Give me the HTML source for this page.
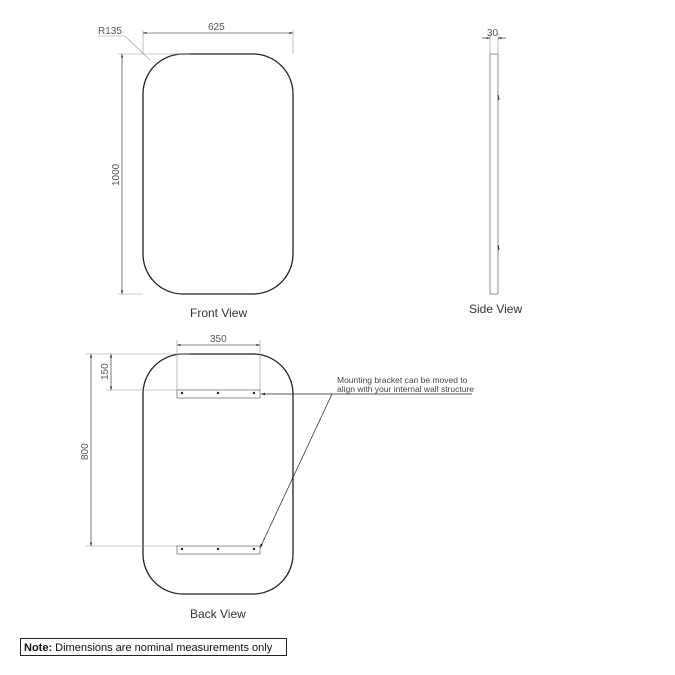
<!DOCTYPE html>
<html><head><meta charset="utf-8"><style>
body{margin:0;background:#fff;width:675px;height:675px;overflow:hidden}
svg{display:block;font-family:"Liberation Sans",sans-serif}
</style></head><body>
<svg width="675" height="675" viewBox="0 0 675 675" xmlns="http://www.w3.org/2000/svg">
<defs>
<marker id="a" viewBox="0 0 10 10" refX="10" refY="5" markerWidth="6" markerHeight="6" orient="auto-start-reverse"><path d="M0,2 L10,5 L0,8 z" fill="#222"/></marker>
</defs>
<!-- Front view -->
<rect x="143" y="54" width="150" height="240" rx="40" ry="40" fill="none" stroke="#222" stroke-width="1.3"/>
<g stroke="#999" stroke-width="0.6" fill="none">
<line x1="143" y1="30" x2="143" y2="54"/><line x1="293" y1="30" x2="293" y2="54"/>
<line x1="118" y1="54" x2="190" y2="54"/><line x1="118" y1="294" x2="143" y2="294"/>
<polyline points="98,36 125,36 150,60"/>
</g>
<g stroke="#222" stroke-width="0.6">
<line x1="143" y1="33" x2="293" y2="33" marker-start="url(#a)" marker-end="url(#a)"/>
<line x1="122" y1="54" x2="122" y2="294" marker-start="url(#a)" marker-end="url(#a)"/>
</g>
<g fill="#555" font-size="10">
<text x="208" y="30">625</text>
<text x="98" y="34">R135</text>
<text transform="translate(119,186) rotate(-90)">1000</text>
</g>
<text x="190" y="317" font-size="12" fill="#333">Front View</text>
<!-- Side view -->
<rect x="490" y="54" width="8" height="240" fill="none" stroke="#777" stroke-width="0.8"/>
<line x1="498" y1="95" x2="499" y2="100" stroke="#222"/>
<line x1="498" y1="245" x2="499" y2="250" stroke="#222"/>
<g stroke="#999" stroke-width="0.6"><line x1="490" y1="33" x2="490" y2="54"/><line x1="498" y1="33" x2="498" y2="54"/></g>
<line x1="482" y1="38" x2="490" y2="38" stroke="#222" stroke-width="0.6" marker-end="url(#a)"/>
<line x1="506" y1="38" x2="498" y2="38" stroke="#222" stroke-width="0.6" marker-end="url(#a)"/>
<text x="487" y="36" font-size="10" fill="#555">30</text>
<text x="469" y="313" font-size="12" fill="#333">Side View</text>
<!-- Back view -->
<rect x="143" y="354" width="150" height="240" rx="40" ry="40" fill="none" stroke="#222" stroke-width="1.3"/>
<g stroke="#999" stroke-width="0.6" fill="none">
<line x1="177" y1="340" x2="177" y2="390"/><line x1="260" y1="340" x2="260" y2="390"/>
<line x1="85" y1="354" x2="190" y2="354"/><line x1="105" y1="390" x2="177" y2="390"/>
<line x1="85" y1="546" x2="177" y2="546"/>
</g>
<g stroke="#222" stroke-width="0.6">
<line x1="177" y1="345" x2="260" y2="345" marker-start="url(#a)" marker-end="url(#a)"/>
<line x1="111" y1="354" x2="111" y2="390" marker-start="url(#a)" marker-end="url(#a)"/>
<line x1="91" y1="354" x2="91" y2="546" marker-start="url(#a)" marker-end="url(#a)"/>
</g>
<g fill="#555" font-size="10">
<text x="210" y="342">350</text>
<text transform="translate(108,380) rotate(-90)">150</text>
<text transform="translate(88,460) rotate(-90)">800</text>
</g>
<!-- brackets -->
<rect x="177" y="390" width="83" height="8" fill="#fff" stroke="#777" stroke-width="0.8"/>
<rect x="177" y="546" width="83" height="8" fill="#fff" stroke="#777" stroke-width="0.8"/>
<g fill="#222"><circle cx="182" cy="393" r="1.2"/><circle cx="218" cy="393" r="1.2"/><circle cx="254" cy="393" r="1.2"/>
<circle cx="182" cy="549" r="1.2"/><circle cx="218" cy="549" r="1.2"/><circle cx="254" cy="549" r="1.2"/></g>
<g stroke="#222" stroke-width="0.7" fill="none">
<line x1="472" y1="394" x2="261" y2="394" marker-end="url(#a)"/>
<line x1="332" y1="394" x2="260" y2="548" marker-end="url(#a)"/>
</g>
<g fill="#444" font-size="8.5">
<text x="337" y="383">Mounting bracket can be moved to</text>
<text x="337" y="392">align with your internal wall structure</text>
</g>
<text x="190" y="618" font-size="12" fill="#333">Back View</text>
<!-- Note -->
<rect x="20.5" y="638.5" width="266" height="17" fill="#fff" stroke="#222" stroke-width="1"/>
<text x="24" y="651" font-size="11" fill="#111"><tspan font-weight="bold">Note:</tspan> Dimensions are nominal measurements only</text>
</svg>
</body></html>
